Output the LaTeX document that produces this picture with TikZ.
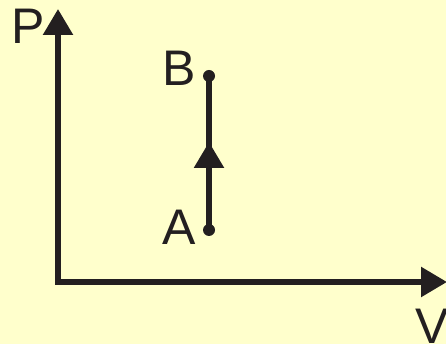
\documentclass[tikz,border=0pt]{standalone}
\usepackage{fontspec}
\setmainfont{Liberation Sans}
\usepackage{xcolor}
\usetikzlibrary{arrows.meta, positioning}
\definecolor{bgyellow}{RGB}{255, 255, 204}
\definecolor{inkdark}{RGB}{35, 31, 32}

\begin{document}
\begin{tikzpicture}[
    x=1pt, y=1pt,
    axisline/.style={line width=5.5pt, inkdark, line cap=rect, -{Triangle[length=26pt, width=29pt]}},
    pathline/.style={line width=5.5pt, inkdark},
    statedot/.style={circle, fill=inkdark, inner sep=0pt, minimum size=12pt},
    letter/.style={inner sep=0pt, text=inkdark, font=\fontsize{50}{50}\selectfont}
]
\fill[bgyellow] (0,0) rectangle (446,344);
\useasboundingbox (0,0) rectangle (446,344);

\coordinate (O) at (58,62);
\coordinate (Ptip) at (58,335);
\coordinate (Vtip) at (447,62);
\coordinate (M) at (209,202);
\node[statedot] (A) at (209,114) {};
\node[statedot] (B) at (209,268) {};

\draw[axisline] (O) -- (Ptip);
\draw[axisline] (O) -- (Vtip);
\draw[pathline] (A.center) -- (B.center);
\draw[axisline, line cap=butt] (A.center) -- (M);

\node[letter] (Plabel) at (28,318) {P};
\node[letter] (Blabel) at (179,276) {B};
\node[letter] (Alabel) at (179,117) {A};
\node[letter] (Vlabel) at (432,18) {V};
\end{tikzpicture}
\end{document}
